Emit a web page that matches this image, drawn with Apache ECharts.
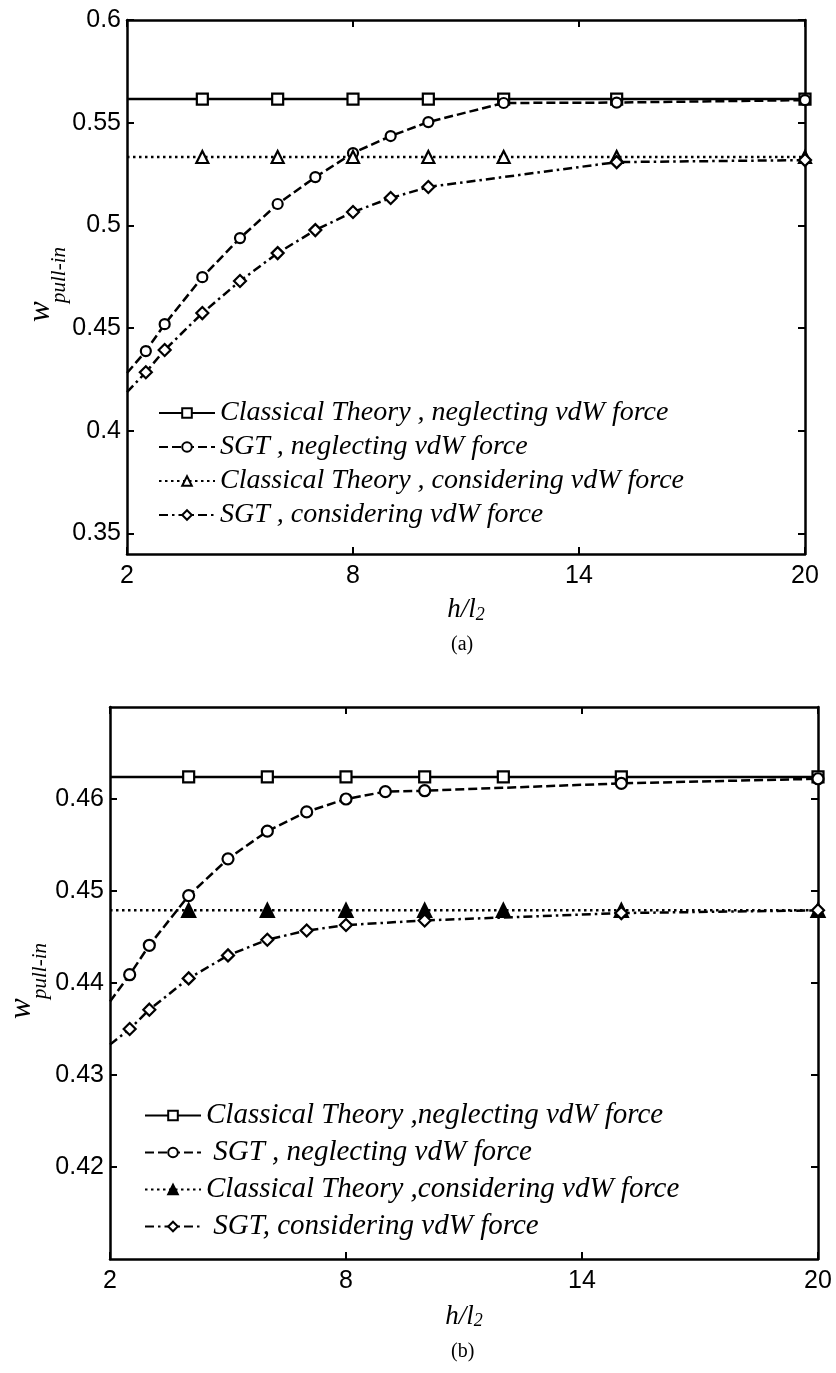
<!DOCTYPE html>
<html>
<head>
<meta charset="utf-8">
<script src="https://cdn.jsdelivr.net/npm/echarts@6/dist/echarts.min.js"></script>
<style>
  html, body { margin: 0; padding: 0; background: #fff; }
  #chart { width: 836px; height: 1373px; }
</style>
</head>
<body>
<div id="chart"></div>
<script>
// ---- shared ticks ----
const xTicks = [2, 8, 14, 20];
const yTicksA = [0.35, 0.4, 0.45, 0.5, 0.55, 0.6];
const yTicksB = [0.42, 0.43, 0.44, 0.45, 0.46];

const namesA = [
  'Classical Theory , neglecting vdW force',
  'SGT , neglecting vdW force',
  'Classical Theory , considering vdW force',
  'SGT , considering vdW force'
];
const namesB = [
  'Classical Theory ,neglecting vdW force',
  ' SGT , neglecting vdW force',
  'Classical Theory ,considering vdW force',
  ' SGT, considering vdW force'
];

const xClassic = [2, 4, 6, 8, 10, 12, 15, 20];

// ---- panel (a) ----
const a_ctNeg = [0.5615, 0.5615, 0.5615, 0.5615, 0.5615, 0.5615, 0.5615, 0.5615];
const a_ctCon = [0.5333, 0.5333, 0.5333, 0.5333, 0.5333, 0.5333, 0.5333, 0.5333];

const a_sgtNegX = [2, 2.5, 3, 4, 5, 6, 7, 8, 9, 10, 12, 15, 20];
const a_sgtNegY = [0.4281, 0.4388, 0.4519, 0.4748, 0.4938, 0.5104, 0.5235, 0.5352, 0.5435, 0.5503, 0.5596, 0.5598, 0.561];

const a_sgtConX = [2, 2.5, 3, 4, 5, 6, 7, 8, 9, 10, 15, 20];
const a_sgtConY = [0.4188, 0.4285, 0.4393, 0.4573, 0.4729, 0.4865, 0.4977, 0.5065, 0.5133, 0.5187, 0.5308, 0.5318];

// ---- panel (b) ----
const b_ctNeg = [0.4624, 0.4624, 0.4624, 0.4624, 0.4624, 0.4624, 0.4624, 0.4624];
const b_ctCon = [0.4479, 0.4479, 0.4479, 0.4479, 0.4479, 0.4479, 0.4479, 0.4479];

const b_sgtNegX = [2, 2.5, 3, 4, 5, 6, 7, 8, 9, 10, 15, 20];
const b_sgtNegY = [0.4380, 0.4409, 0.4441, 0.4495, 0.4535, 0.4565, 0.4586, 0.4600, 0.4608, 0.4609, 0.4617, 0.4622];

const b_sgtConX = [2, 2.5, 3, 4, 5, 6, 7, 8, 10, 15, 20];
const b_sgtConY = [0.4333, 0.4350, 0.4371, 0.4405, 0.4430, 0.4447, 0.4457, 0.4463, 0.4468, 0.4476, 0.4479];

// pair x/y; the point at the left edge carries no marker
function pts(xs, ys) {
  return xs.map((x, i) => i === 0 ? { value: [x, ys[i]], symbol: 'none' } : [x, ys[i]]);
}

const SERIF = '"Liberation Serif", "Times New Roman", serif';
const SANS = '"Liberation Sans", Arial, sans-serif';
const DASH = [9, 4];
const DOT = [2.5, 3.5];
const DASHDOT = [9, 4, 2.5, 4];

function lineSeries(name, data, axisIdx, dash, symbol, size, fill) {
  return {
    name: name,
    type: 'line',
    xAxisIndex: axisIdx,
    yAxisIndex: axisIdx,
    data: data,
    symbol: symbol,
    symbolSize: size,
    showAllSymbol: true,
    animation: false,
    clip: false,
    lineStyle: { color: '#000', width: 2.5, type: dash },
    itemStyle: { color: fill, borderColor: '#000', borderWidth: 2.2 },
    z: 3
  };
}

function xAxes(gridIndex, pos, labels) {
  return {
    type: 'value', gridIndex: gridIndex, position: pos,
    min: 2, max: 20, interval: 6,
    axisLine: { show: true, onZero: false, lineStyle: { color: '#000', width: 2.5 } },
    axisTick: { show: true, inside: true, length: 7, lineStyle: { color: '#000', width: 2 } },
    axisLabel: { show: labels, color: '#000', fontFamily: SANS, fontSize: 25, margin: 10 },
    splitLine: { show: false }
  };
}

function yAxes(gridIndex, pos, min, max, ticks, labels) {
  return {
    type: 'value', gridIndex: gridIndex, position: pos,
    min: min, max: max,
    axisLine: { show: true, onZero: false, lineStyle: { color: '#000', width: 2.5 } },
    axisTick: { show: true, inside: true, length: 7, customValues: ticks, lineStyle: { color: '#000', width: 2 } },
    axisLabel: { show: labels, customValues: ticks, color: '#000', fontFamily: SANS, fontSize: 25, margin: 6,
                 formatter: v => String(+v.toFixed(2)) },
    splitLine: { show: false }
  };
}

const xName = {
  name: '{h|h/l}{s|2}',
  nameLocation: 'middle',
  nameTextStyle: {
    rich: {
      h: { fontFamily: SERIF, fontStyle: 'italic', fontSize: 27, color: '#000', lineHeight: 27, verticalAlign: 'top' },
      s: { fontFamily: SERIF, fontStyle: 'italic', fontSize: 18, color: '#000', lineHeight: 18, padding: [16, 0, 0, 0], verticalAlign: 'bottom' }
    }
  }
};

// rotated y-axis title: "w" with subscript "pull-in"
function yTitle(wx, wy, sx, sy) {
  return [
    { type: 'text', x: wx, y: wy, rotation: Math.PI / 2,
      style: { text: 'w', font: 'italic 31px ' + SERIF, fill: '#000', align: 'left', verticalAlign: 'middle' } },
    { type: 'text', x: sx, y: sy, rotation: Math.PI / 2,
      style: { text: 'pull-in', font: 'italic 21px ' + SERIF, fill: '#000', align: 'left', verticalAlign: 'middle' } }
  ];
}

const legendTextA = { fontFamily: SERIF, fontStyle: 'italic', fontSize: 28, color: '#000', lineHeight: 28 };
const legendTextB = { fontFamily: SERIF, fontStyle: 'italic', fontSize: 29, color: '#000', lineHeight: 28 };

const xA = Object.assign(xAxes(0, 'bottom', true), xName, { nameGap: 42 });
const yA = yAxes(0, 'left', 0.34, 0.6, yTicksA, true);
const xB = Object.assign(xAxes(1, 'bottom', true), xName, { nameGap: 44 });
const yB = yAxes(1, 'left', 0.41, 0.47, yTicksB, true);

const option = {
  backgroundColor: '#fff',
  animation: false,
  grid: [
    { left: 127, top: 20, width: 678, height: 534, outerBoundsMode: 'none', containLabel: false },
    { left: 110, top: 707, width: 708, height: 552, outerBoundsMode: 'none', containLabel: false }
  ],
  xAxis: [xA, xAxes(0, 'top', false), xB, xAxes(1, 'top', false)],
  yAxis: [yA, yAxes(0, 'right', 0.34, 0.6, yTicksA, false), yB, yAxes(1, 'right', 0.41, 0.47, yTicksB, false)],
  legend: [
    {
      data: namesA, orient: 'vertical', left: 153, top: 394,
      itemWidth: 56, itemHeight: 12, itemGap: 6,
      selectedMode: false, textStyle: legendTextA
    },
    {
      data: namesB, orient: 'vertical', left: 139, top: 1096,
      itemWidth: 56, itemHeight: 12, itemGap: 8,
      selectedMode: false, textStyle: legendTextB
    }
  ],
  graphic: [
    { type: 'text', left: 451, top: 635, style: { text: '(a)', font: '20px ' + SERIF, fill: '#000' } },
    { type: 'text', left: 451, top: 1342, style: { text: '(b)', font: '20px ' + SERIF, fill: '#000' } }
  ].concat(yTitle(41, 322, 59, 303), yTitle(22, 1019, 40, 999)),
  series: [
    lineSeries(namesA[0], pts(xClassic, a_ctNeg), 0, 'solid', 'rect', 11, '#fff'),
    lineSeries(namesA[1], pts(a_sgtNegX, a_sgtNegY), 0, DASH, 'circle', 10, '#fff'),
    lineSeries(namesA[2], pts(xClassic, a_ctCon), 0, DOT, 'triangle', 12, '#fff'),
    lineSeries(namesA[3], pts(a_sgtConX, a_sgtConY), 0, DASHDOT, 'diamond', 12, '#fff'),
    lineSeries(namesB[0], pts(xClassic, b_ctNeg), 2, 'solid', 'rect', 11, '#fff'),
    lineSeries(namesB[1], pts(b_sgtNegX, b_sgtNegY), 2, DASH, 'circle', 11, '#fff'),
    lineSeries(namesB[2], pts(xClassic, b_ctCon), 2, DOT, 'triangle', 13, '#000'),
    lineSeries(namesB[3], pts(b_sgtConX, b_sgtConY), 2, DASHDOT, 'diamond', 12, '#fff')
  ]
};

const chart = echarts.init(document.getElementById('chart'), null, { renderer: 'canvas' });
chart.setOption(option);
</script>
</body>
</html>
